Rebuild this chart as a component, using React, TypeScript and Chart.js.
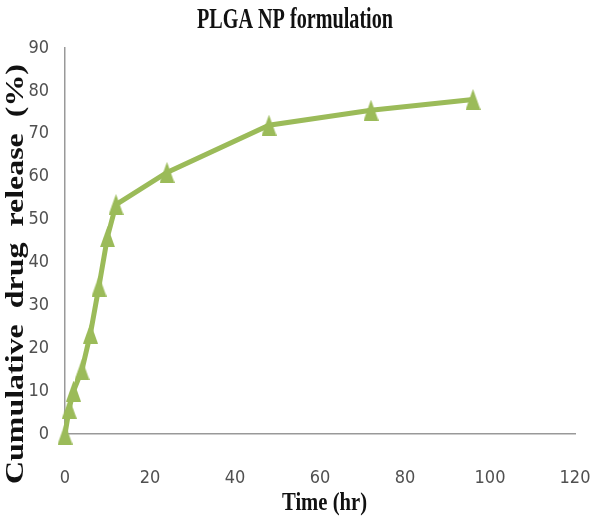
import React, { useEffect, useRef } from "react";
import { Chart, registerables } from "chart.js";

Chart.register(...registerables);

const timeHr = [0, 1, 2, 4, 6, 8, 10, 12, 24, 48, 72, 96];
const releasePct = [0, 6, 10, 15, 23.5, 34.5, 46, 53.5, 61, 72, 75.5, 78];
const xTicksMax = 120;
const yTicksMax = 90;
const chartTitle = "PLGA NP formulation";
const xTitle = "Time (hr)";
const yTitle = "Cumulative  drug  release  (%)";

function fitText(
  ctx: CanvasRenderingContext2D,
  text: string,
  cx: number,
  cy: number,
  size: number,
  targetWidth: number,
  rotate: boolean
) {
  ctx.save();
  ctx.font = `bold ${size}px 'Liberation Serif', 'Times New Roman', serif`;
  ctx.fillStyle = "#111";
  ctx.textAlign = "center";
  ctx.textBaseline = "middle";
  const w = ctx.measureText(text).width;
  ctx.translate(cx, cy);
  if (rotate) ctx.rotate(-Math.PI / 2);
  ctx.scale(targetWidth / w, 1);
  ctx.fillText(text, 0, 0);
  ctx.restore();
}

const textPlugin = {
  id: "texts",
  afterDraw(chart: any) {
    const ctx = chart.ctx as CanvasRenderingContext2D;
    fitText(ctx, chartTitle, 295, 21, 29, 196, false);
    fitText(ctx, xTitle, 324.5, 503, 26, 85, false);
    fitText(ctx, yTitle, 17, 274, 25, 420, true);
  },
};

function makeTriangle(color: string): HTMLCanvasElement {
  const c = document.createElement("canvas");
  c.width = 15;
  c.height = 21;
  const g = c.getContext("2d")!;
  g.fillStyle = color;
  g.beginPath();
  g.moveTo(7.5, 0);
  g.lineTo(15, 21);
  g.lineTo(0, 21);
  g.closePath();
  g.fill();
  return c;
}

export default function App() {
  const ref = useRef<HTMLCanvasElement | null>(null);
  useEffect(() => {
    if (!ref.current) return;
    const green = "#9BBB59";
    const tri = makeTriangle(green);
    const tickFont = { family: "'Liberation Sans Narrow', 'DejaVu Sans Condensed', sans-serif", size: 18 };
    const chart = new Chart(ref.current, {
      type: "line",
      data: {
        datasets: [
          {
            data: timeHr.map((t, i) => ({ x: t, y: releasePct[i] })),
            borderColor: green,
            backgroundColor: green,
            borderWidth: 5,
            pointStyle: tri as any,
            pointRadius: 8,
            tension: 0,
            clip: false as any,
          },
        ],
      },
      plugins: [textPlugin],
      options: {
        animation: false,
        responsive: false,
        layout: { padding: { left: 0, right: 25, top: 48, bottom: 0 } },
        plugins: {
          legend: { display: false },
          tooltip: { enabled: false },
          title: { display: false },
        },
        scales: {
          x: {
            type: "linear",
            min: 0,
            max: xTicksMax,
            afterFit: (s: any) => {
              s.height = 91;
              s.paddingLeft = 0;
              s.paddingRight = 0;
            },
            ticks: {
              stepSize: 20,
              color: "#505050",
              font: tickFont,
              padding: 26,
            },
            grid: { display: false, drawTicks: true, tickLength: 8, color: "#999" },
            border: { color: "#999", width: 1.5 },
          },
          y: {
            min: 0,
            max: yTicksMax,
            afterFit: (s: any) => {
              s.width = 65;
              s.paddingTop = 0;
              s.paddingBottom = 0;
            },
            ticks: {
              stepSize: 10,
              color: "#505050",
              font: tickFont,
              padding: 10,
            },
            grid: { display: false, drawTicks: true, tickLength: 6, color: "#999" },
            border: { color: "#999", width: 1.5 },
          },
        },
      },
    });
    return () => chart.destroy();
  }, []);
  return (
    <div style={{ position: "absolute", left: 0, top: 0, width: 600, height: 525, background: "#fff" }}>
      <canvas ref={ref} width={600} height={525} style={{ display: "block" }} />
    </div>
  );
}
